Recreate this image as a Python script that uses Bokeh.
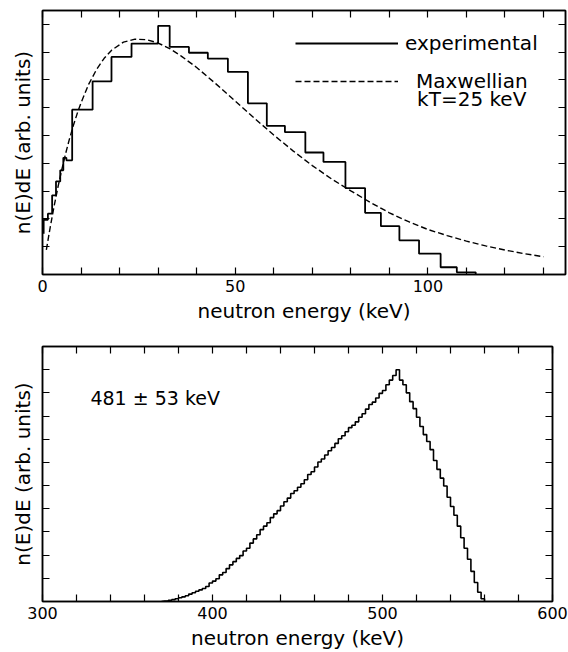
from bokeh.plotting import figure
from bokeh.models import Range1d, FixedTicker, LinearAxis, Legend, LegendItem, Label
from bokeh.embed import file_html
from bokeh.resources import INLINE

FONT = "DejaVu Sans"

# ---------------- top panel data ----------------
hist_edges = [0.3, 1.4, 2.5, 3.5, 4.6, 5.4, 6.2, 7.7, 13.0, 17.9, 23.1, 30.0, 33.0,
              38.0, 42.9, 48.1, 53.3, 58.2, 62.9, 68.2, 72.9, 78.6, 83.7, 87.8,
              92.6, 97.7, 103.3, 107.5, 112.4]
hist_values = [1.97, 2.19, 2.85, 3.35, 3.75, 4.2, 4.11, 5.93, 6.95, 7.83, 8.31, 8.95,
               8.19, 7.98, 7.77, 7.29, 6.16, 5.35, 5.12, 4.39, 4.05, 3.11, 2.22,
               1.74, 1.23, 0.75, 0.26, 0.08]
hist_start = 1.47

maxw_energy = [1, 2, 3, 4, 5, 6, 7, 8, 9, 10, 12, 14, 16, 18, 21, 24, 27, 30, 33, 36,
               40, 45, 50, 55, 60, 65, 70, 75, 80, 85, 90, 95, 100, 105, 110, 115,
               120, 125, 130]
maxw_values = [0.89, 1.70, 2.45, 3.14, 3.77, 4.35, 4.88, 5.36, 5.79, 6.18, 6.85, 7.37,
               7.78, 8.08, 8.36, 8.47, 8.45, 8.33, 8.13, 7.86, 7.45, 6.86, 6.24, 5.62,
               5.02, 4.45, 3.92, 3.44, 3.01, 2.6, 2.22, 1.9, 1.62, 1.4, 1.2, 1.03,
               0.88, 0.75, 0.64]

top_xticks = [0, 50, 100]
top_xminor = [10, 20, 30, 40, 60, 70, 80, 90, 110, 120, 130]
top_yticks = [1, 2, 3, 4, 5, 6, 7, 8, 9]

# ---------------- bottom panel data ----------------
spec_start = 372
spec_step = 2
spec_values = [0.02, 0.05, 0.08, 0.12, 0.16, 0.2, 0.25, 0.32, 0.38, 0.44,
               0.5, 0.56, 0.65, 0.8, 0.88, 0.98, 1.15, 1.25, 1.42, 1.58,
               1.72, 1.86, 1.98, 2.18, 2.3, 2.52, 2.7, 2.88, 3.1, 3.25,
               3.4, 3.62, 3.78, 3.92, 4.12, 4.3, 4.46, 4.66, 4.78, 4.93,
               5.08, 5.25, 5.48, 5.6, 5.8, 6.02, 6.15, 6.32, 6.5, 6.64,
               6.82, 7.02, 7.15, 7.32, 7.5, 7.6, 7.75, 7.95, 8.1, 8.3,
               8.5, 8.6, 8.78, 8.98, 9.1, 9.35, 9.55, 9.75, 10.0, 9.55,
               9.35, 9.0, 8.62, 8.32, 7.95, 7.55, 7.2, 6.9, 6.55, 6.08,
               5.7, 5.32, 4.98, 4.5, 4.1, 3.72, 3.25, 2.75, 2.3, 1.82,
               1.3, 0.82, 0.4, 0.12]

bot_xticks = [300, 400, 500, 600]
bot_xminor = [320, 340, 360, 380, 420, 440, 460, 480, 520, 540, 560, 580]
bot_yticks = [1, 2, 3, 4, 5, 6, 7, 8, 9, 10]

XLABEL = "neutron energy (keV)"
YLABEL = "n(E)dE (arb. units)"


def tick_style(ax):
    ax.major_tick_in = 7
    ax.major_tick_out = 0
    ax.minor_tick_in = 7
    ax.minor_tick_out = 0
    ax.axis_line_width = 1.5
    ax.major_tick_line_width = 1.2
    ax.minor_tick_line_width = 1.2
    ax.axis_line_color = "black"
    ax.major_tick_line_color = "black"
    ax.minor_tick_line_color = "black"


def hide_labels(ax, ticks):
    ax.major_label_overrides = {t: "" for t in ticks}
    ax.major_label_text_font_size = "0px"
    ax.major_label_standoff = 0


def make_fig(width, height, xr, yr, xt, xm, yt, borders):
    p = figure(width=width, height=height, x_range=Range1d(*xr), y_range=Range1d(*yr),
               output_backend="svg", toolbar_location=None,
               min_border_left=borders[0], min_border_right=borders[1],
               min_border_top=borders[2], min_border_bottom=borders[3])
    p.grid.visible = False
    p.outline_line_color = "black"
    p.outline_line_width = 1.5
    p.background_fill_color = "white"
    p.border_fill_color = "white"

    xa = p.xaxis[0]
    xa.ticker = FixedTicker(ticks=xt, minor_ticks=xm)
    tick_style(xa)
    xa.major_label_text_font = FONT
    xa.major_label_text_font_size = "16px"
    xa.major_label_text_color = "black"
    xa.major_label_standoff = 5
    xa.axis_label = XLABEL
    xa.axis_label_text_font = FONT
    xa.axis_label_text_font_size = "20px"
    xa.axis_label_text_font_style = "normal"
    xa.axis_label_text_color = "black"
    xa.axis_label_standoff = 4

    ya = p.yaxis[0]
    ya.ticker = FixedTicker(ticks=yt, minor_ticks=[])
    tick_style(ya)
    hide_labels(ya, yt)
    ya.axis_label = YLABEL
    ya.axis_label_text_font = FONT
    ya.axis_label_text_font_size = "20px"
    ya.axis_label_text_font_style = "normal"
    ya.axis_label_text_color = "black"
    ya.axis_label_standoff = 8

    top = LinearAxis(ticker=FixedTicker(ticks=xt, minor_ticks=xm))
    tick_style(top)
    hide_labels(top, xt)
    p.add_layout(top, "above")

    right = LinearAxis(ticker=FixedTicker(ticks=yt, minor_ticks=[]))
    tick_style(right)
    hide_labels(right, yt)
    p.add_layout(right, "right")
    return p


# ---------------- top figure ----------------
p1 = make_fig(568, 326, (0, 135.7), (0, 9.5), top_xticks, top_xminor, top_yticks,
              (42, 3, 10, 52))

hx = [hist_edges[0]]
hy = [hist_start]
for i, v in enumerate(hist_values):
    hx += [hist_edges[i], hist_edges[i + 1]]
    hy += [v, v]
hx.append(hist_edges[-1])
hy.append(0)
r_exp = p1.line(hx, hy, line_color="black", line_width=1.8)
r_max = p1.line(maxw_energy, maxw_values, line_color="black", line_width=1.4,
                line_dash="6 3")

leg_common = dict(glyph_width=103, glyph_height=20, padding=0, margin=0, spacing=0,
                  border_line_color=None, background_fill_alpha=0,
                  label_text_font=FONT, label_text_font_size="20px",
                  label_text_color="black")
leg1 = Legend(items=[LegendItem(label="experimental", renderers=[r_exp])],
              location=(253, 219), label_standoff=7, **leg_common)
leg2 = Legend(items=[LegendItem(label="Maxwellian", renderers=[r_max])],
              location=(253, 181), label_standoff=18, **leg_common)
p1.add_layout(leg1)
p1.add_layout(leg2)
p1.add_layout(Label(x=97.2, y=6.32, text="kT=25 keV", text_font=FONT,
                    text_font_size="20px", text_baseline="middle",
                    text_align="left", text_color="black"))

# ---------------- bottom figure ----------------
p2 = make_fig(568, 326, (300, 600), (0, 11), bot_xticks, bot_xminor, bot_yticks,
              (42, 16, 20, 47))
sx = [spec_start - spec_step]
sy = [0]
for i, v in enumerate(spec_values):
    e0 = spec_start + i * spec_step
    sx += [e0, e0 + spec_step]
    sy += [v, v]
sx.append(spec_start + len(spec_values) * spec_step)
sy.append(0)
p2.line(sx, sy, line_color="black", line_width=1.6)
p2.add_layout(Label(x=328.2, y=8.78, text="481 \u00b1 53 keV", text_font=FONT,
                    text_font_size="19px", text_baseline="middle",
                    text_align="left", text_color="black"))

open("out.html", "w").write(file_html([p1, p2], INLINE))
